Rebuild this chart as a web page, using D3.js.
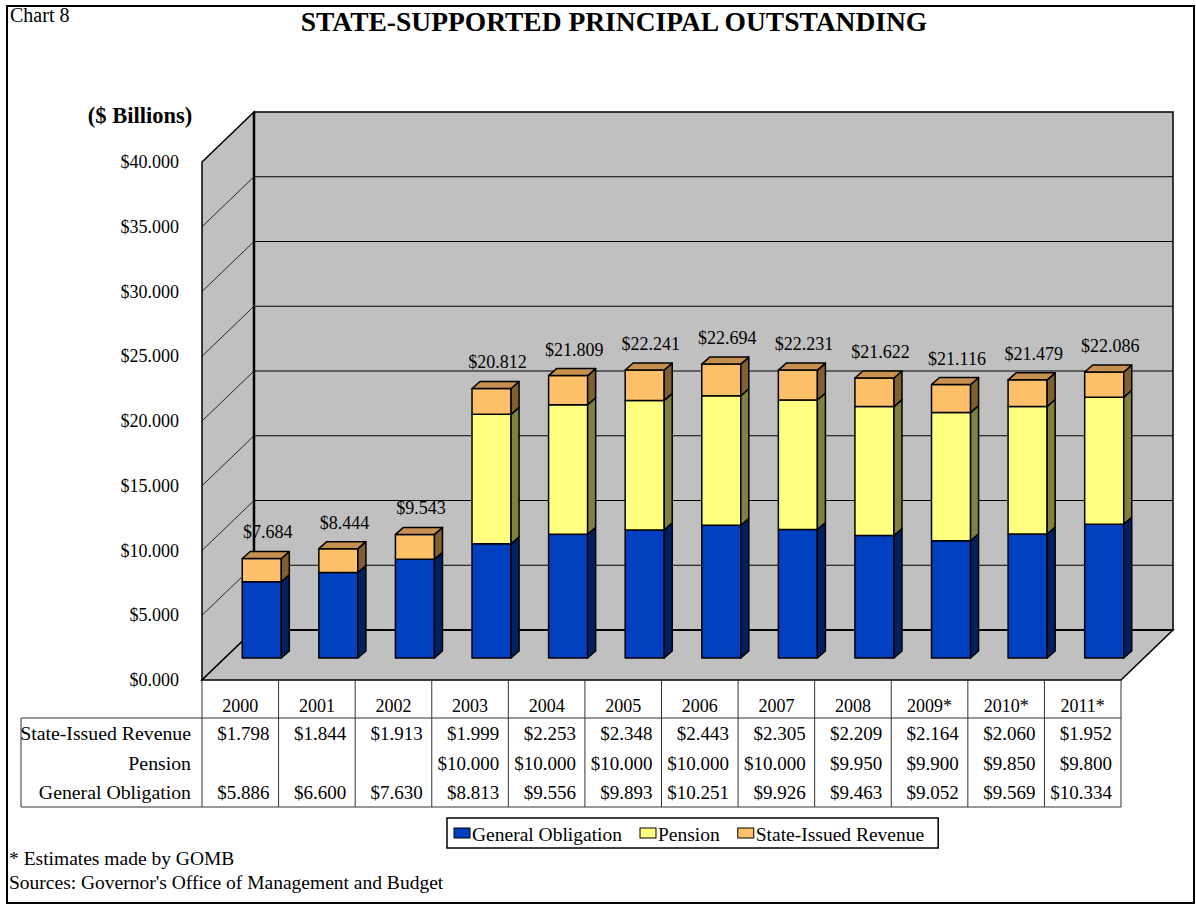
<!DOCTYPE html>
<html>
<head>
<meta charset="utf-8">
<title>State-Supported Principal Outstanding</title>
<script src="https://cdn.jsdelivr.net/npm/d3@7"></script>
<style>
  body { margin: 0; background: #fff; }
  text { font-family: "Liberation Serif", "Times New Roman", serif; fill: #000; }
</style>
</head>
<body>
<div id="chart"></div>
<script>
// data, $ billions
var years = ["2000", "2001", "2002", "2003", "2004", "2005", "2006", "2007", "2008", "2009*", "2010*", "2011*"];
var generalObligation = [5.886, 6.600, 7.630, 8.813, 9.556, 9.893, 10.251, 9.926, 9.463, 9.052, 9.569, 10.334];
var pension = [null, null, null, 10.000, 10.000, 10.000, 10.000, 10.000, 9.950, 9.900, 9.850, 9.800];
var stateIssuedRevenue = [1.798, 1.844, 1.913, 1.999, 2.253, 2.348, 2.443, 2.305, 2.209, 2.164, 2.060, 1.952];
var seriesNames = ["General Obligation", "Pension", "State-Issued Revenue"];
var yTicks = [0, 5, 10, 15, 20, 25, 30, 35, 40];

var width = 1196, height = 905;
var colors = {
  "General Obligation":   {front: "#0040C0", side: "#002060", top: "#00309A"},
  "Pension":              {front: "#FFFF80", side: "#808040", top: "#C0C060"},
  "State-Issued Revenue": {front: "#FFC06A", side: "#806030", top: "#C89050"}
};

var svg = d3.select("#chart").append("svg")
  .attr("width", width).attr("height", height);

// frame
svg.append("rect").attr("x", 7).attr("y", 6).attr("width", 1187).attr("height", 897)
  .attr("fill", "#fff").attr("stroke", "#000").attr("stroke-width", 2);

svg.append("text").attr("x", 10).attr("y", 22).style("font-size", "20px").text("Chart 8");
svg.append("text").attr("x", 614).attr("y", 31).attr("text-anchor", "middle")
  .style("font-size", "27.5px").style("font-weight", "bold")
  .text("STATE-SUPPORTED PRINCIPAL OUTSTANDING");
svg.append("text").attr("x", 140).attr("y", 123).attr("text-anchor", "middle")
  .style("font-size", "22.5px").style("font-weight", "bold").text("($ Billions)");

// scales (front plane)
var x = d3.scaleBand().domain(years).range([202, 1121]);
var y = d3.scaleLinear().domain([0, 40]).range([680, 162]);
var depth = {dx: 52, dy: -50};      // wall depth
var off = {dx: 21.5, dy: -22};      // bar front inside the floor
var bdep = {dx: 8, dy: -7};         // bar depth

var x0 = x.range()[0], x1 = x.range()[1];
var yTop = y(40), yBot = y(0);

function pts(a) { return a.map(function(p) { return p.join(","); }).join(" "); }

// walls
var walls = svg.append("g");
walls.append("polygon")  // back wall
  .attr("points", pts([[x0 + depth.dx, yTop + depth.dy], [x1 + depth.dx, yTop + depth.dy],
                       [x1 + depth.dx, yBot + depth.dy], [x0 + depth.dx, yBot + depth.dy]]))
  .attr("fill", "#C0C0C0").attr("stroke", "#000").attr("stroke-width", 1.5);
walls.append("polygon")  // side wall
  .attr("points", pts([[x0, yTop], [x0 + depth.dx, yTop + depth.dy],
                       [x0 + depth.dx, yBot + depth.dy], [x0, yBot]]))
  .attr("fill", "#C0C0C0").attr("stroke", "#000").attr("stroke-width", 1.5);
walls.append("polygon")  // floor
  .attr("points", pts([[x0, yBot], [x1, yBot], [x1 + depth.dx, yBot + depth.dy], [x0 + depth.dx, yBot + depth.dy]]))
  .attr("fill", "#C0C0C0").attr("stroke", "#000").attr("stroke-width", 1.5);

// gridlines
var grid = svg.append("g").attr("stroke", "#000").attr("stroke-width", 1);
grid.selectAll("line.h").data(yTicks.slice(1, -1)).enter().append("line")
  .attr("x1", x0 + depth.dx).attr("x2", x1 + depth.dx)
  .attr("y1", function(d) { return y(d) + depth.dy; })
  .attr("y2", function(d) { return y(d) + depth.dy; });
grid.selectAll("line.d").data(yTicks.slice(1, -1)).enter().append("line")
  .attr("x1", x0).attr("x2", x0 + depth.dx)
  .attr("y1", function(d) { return y(d); })
  .attr("y2", function(d) { return y(d) + depth.dy; })
  .attr("stroke-width", 0.8);
svg.append("line").attr("x1", x0 + depth.dx).attr("x2", x1 + depth.dx)
  .attr("y1", yBot + depth.dy).attr("y2", yBot + depth.dy)
  .attr("stroke", "#000").attr("stroke-width", 2);
svg.append("line").attr("x1", x0 + depth.dx).attr("x2", x0 + depth.dx)
  .attr("y1", yTop + depth.dy).attr("y2", yBot + depth.dy)
  .attr("stroke", "#000").attr("stroke-width", 2.5);

// y axis labels
svg.append("g").selectAll("text").data(yTicks).enter().append("text")
  .attr("x", 179).attr("y", function(d) { return y(d) + 6; })
  .attr("text-anchor", "end").style("font-size", "18px")
  .text(function(d) { return "$" + d3.format(".3f")(d); });

// stacked bars
var rows = years.map(function(yr, i) {
  return {year: yr, "General Obligation": generalObligation[i], "Pension": pension[i] || 0,
          "State-Issued Revenue": stateIssuedRevenue[i]};
});
var stack = d3.stack().keys(seriesNames)(rows);
var bw = x.bandwidth() * 0.51;

var bars = svg.append("g").attr("stroke", "#000").attr("stroke-width", 1.5).attr("stroke-linejoin", "round");
rows.forEach(function(r, i) {
  var bx = x(r.year) + (x.bandwidth() - bw) / 2 + off.dx;
  var segs = stack.map(function(s) { return {key: s.key, v0: s[i][0], v1: s[i][1]}; })
    .filter(function(s) { return s.v1 > s.v0; });
  segs.forEach(function(s, k) {
    var ya = y(s.v0) + off.dy, yb = y(s.v1) + off.dy;
    var c = colors[s.key];
    bars.append("rect").attr("x", bx).attr("y", yb).attr("width", bw).attr("height", ya - yb)
      .attr("fill", c.front);
    bars.append("polygon")
      .attr("points", pts([[bx + bw, yb], [bx + bw + bdep.dx, yb + bdep.dy],
                           [bx + bw + bdep.dx, ya + bdep.dy], [bx + bw, ya]]))
      .attr("fill", c.side);
    if (k === segs.length - 1) {
      bars.append("polygon")
        .attr("points", pts([[bx, yb], [bx + bdep.dx, yb + bdep.dy],
                             [bx + bw + bdep.dx, yb + bdep.dy], [bx + bw, yb]]))
        .attr("fill", c.top);
    }
  });
  var total = generalObligation[i] + (pension[i] || 0) + stateIssuedRevenue[i];
  svg.append("text").attr("x", bx + bw / 2 + 6).attr("y", y(total) + off.dy - 20)
    .attr("text-anchor", "middle").style("font-size", "18px")
    .text("$" + d3.format(".3f")(total));
});

// data table
var tbl = svg.append("g");
var tTop = 718, tBot = 807, tLeft = 21;
var tl = tbl.append("g").attr("stroke", "#333").attr("stroke-width", 1);
tl.append("line").attr("x1", tLeft).attr("x2", x1).attr("y1", tTop).attr("y2", tTop);
tl.append("line").attr("x1", tLeft).attr("x2", x1).attr("y1", tBot).attr("y2", tBot);
tl.append("line").attr("x1", tLeft).attr("x2", tLeft).attr("y1", tTop).attr("y2", tBot);
tl.selectAll("line.c").data(years.concat(["end"])).enter().append("line")
  .attr("x1", function(d) { return d === "end" ? x1 : x(d); })
  .attr("x2", function(d) { return d === "end" ? x1 : x(d); })
  .attr("y1", yBot).attr("y2", tBot);

tbl.selectAll("text.yr").data(years).enter().append("text")
  .attr("x", function(d) { return x(d) + x.bandwidth() / 2; }).attr("y", 712)
  .attr("text-anchor", "middle").style("font-size", "18px").text(function(d) { return d; });

var tableRows = [
  {name: "State-Issued Revenue", values: stateIssuedRevenue, y: 740},
  {name: "Pension", values: pension, y: 770},
  {name: "General Obligation", values: generalObligation, y: 799}
];
tableRows.forEach(function(row) {
  tbl.append("text").attr("x", 191).attr("y", row.y).attr("text-anchor", "end")
    .style("font-size", "19.8px").text(row.name);
  tbl.selectAll(null).data(row.values).enter().append("text")
    .attr("x", function(d, i) { return x(years[i]) + x.bandwidth() - 9; })
    .attr("y", row.y).attr("text-anchor", "end").style("font-size", "19px")
    .text(function(d) { return d == null ? "" : "$" + d3.format(".3f")(d); });
});

// legend
var legend = svg.append("g");
var lbox = legend.append("rect").attr("y", 818).attr("height", 30)
  .attr("fill", "#fff").attr("stroke", "#000").attr("stroke-width", 1.5);
var lx = 454;
seriesNames.forEach(function(name) {
  legend.append("rect").attr("x", lx).attr("y", 828).attr("width", 16).attr("height", 10)
    .attr("fill", colors[name].front).attr("stroke", "#000").attr("stroke-width", 1);
  var t = legend.append("text").attr("x", lx + 18).attr("y", 841).style("font-size", "19.5px").text(name);
  lx += 18 + t.node().getComputedTextLength() + 18;
});
lbox.attr("x", 447).attr("width", lx - 18 - 447 + 14);

// notes
svg.append("text").attr("x", 9).attr("y", 865).style("font-size", "19.5px").text("* Estimates made by GOMB");
svg.append("text").attr("x", 9).attr("y", 889).style("font-size", "19.5px")
  .text("Sources: Governor's Office of Management and Budget");
</script>
</body>
</html>
